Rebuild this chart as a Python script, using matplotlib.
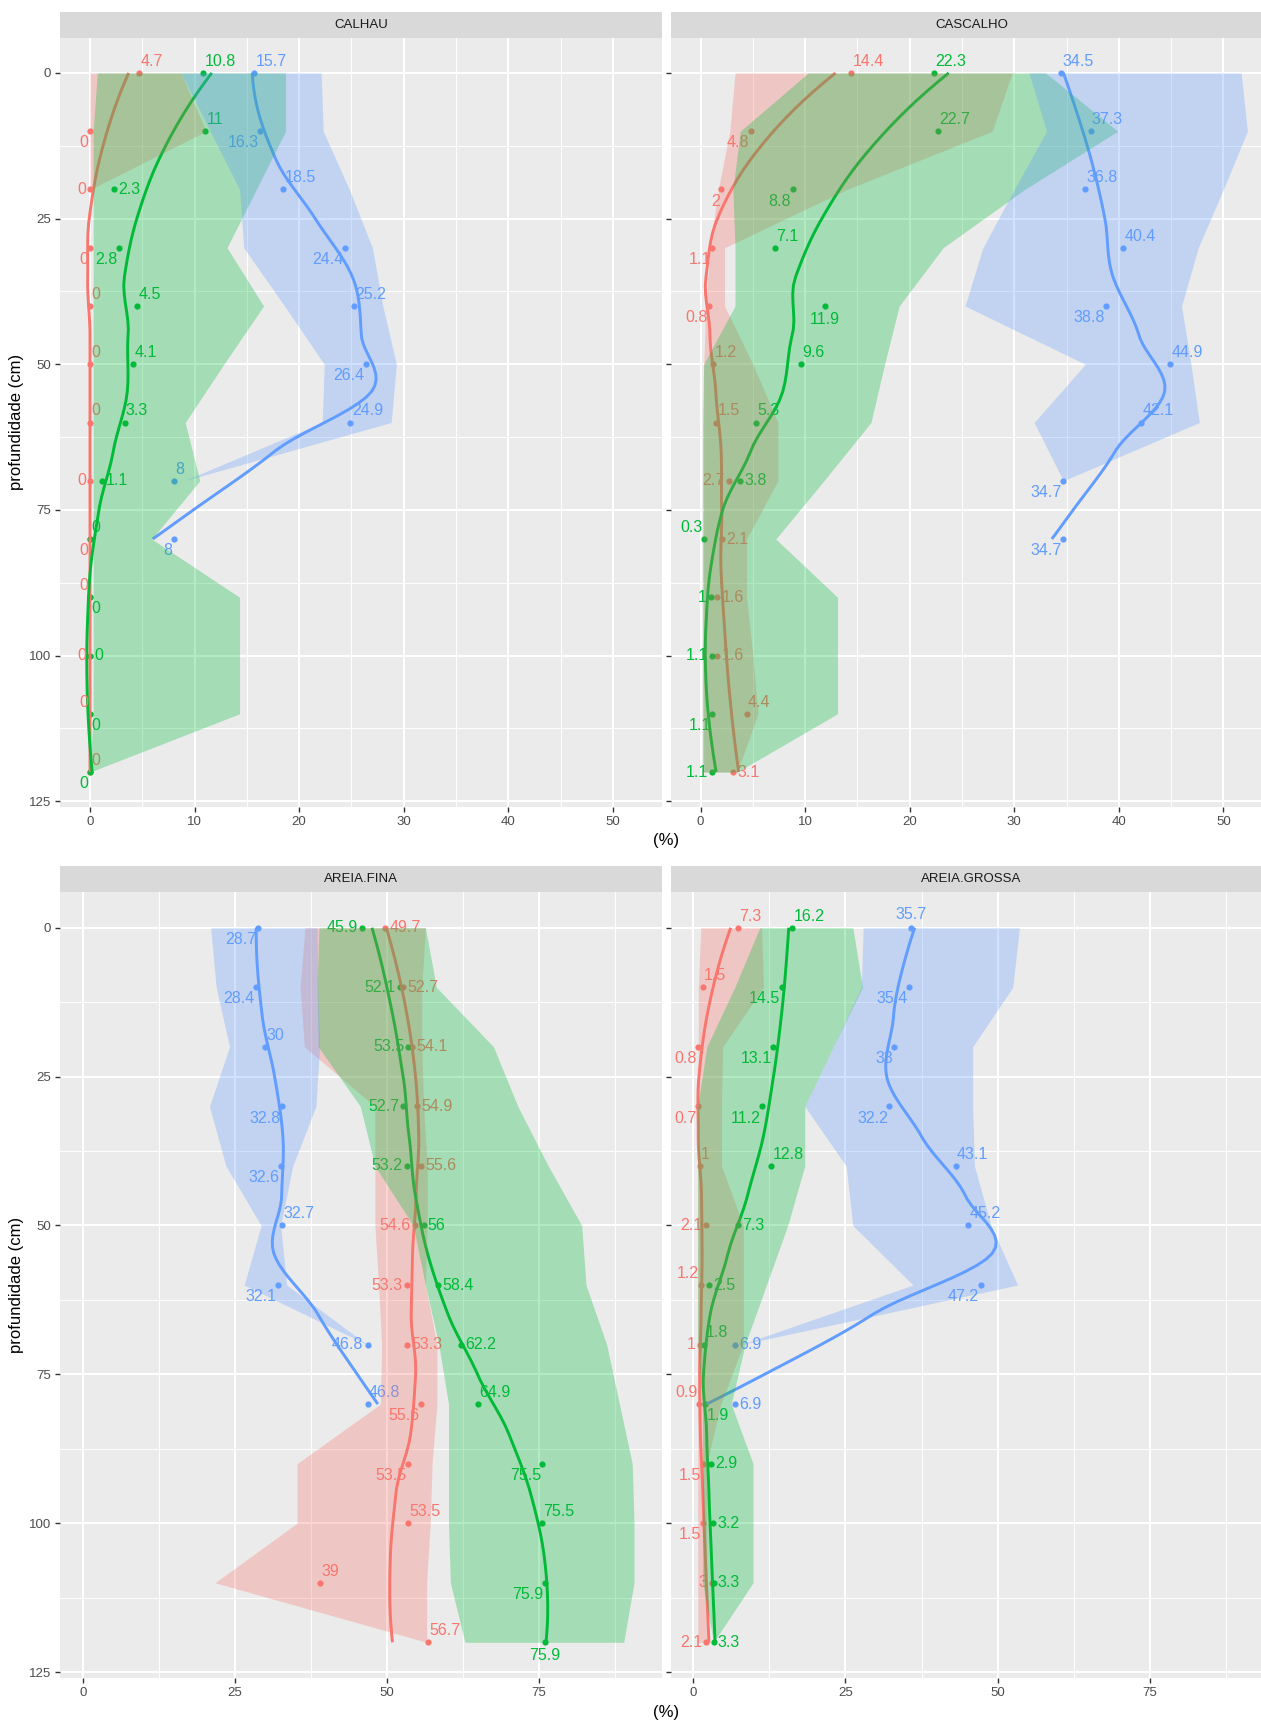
import numpy as np
import matplotlib
matplotlib.use("Agg")
import matplotlib.pyplot as plt

plt.rcParams['font.family'] = ['Liberation Sans', 'DejaVu Sans']

nan = np.nan
profundidade = np.arange(0, 130, 10)

# CALHAU
calhau_r = [4.7, 0, 0, 0, 0, 0, 0, 0, 0, 0, 0, 0, 0]
calhau_g = [10.8, 11, 2.3, 2.8, 4.5, 4.1, 3.3, 1.1, 0, 0, 0, 0, 0]
calhau_b = [15.7, 16.3, 18.5, 24.4, 25.2, 26.4, 24.9, 8, 8]
calhau_r_min = [0, 0, 0, 0, 0, 0, 0, 0, 0, 0, 0, 0, 0]
calhau_r_max = [8.7, 11.1, 0, 0, 0, 0, 0, 0, 0, 0, 0, 0, 0]
calhau_g_min = [0.7, 0.3, 0.3, 0.3, 0.3, 0.3, 0.3, 0.3, 0.3, 0.3, 0.3, 0.3, 0]
calhau_g_max = [18.7, 18.7, 15.9, 13.1, 16.6, 12.8, 9.1, 10.5, 5.9, 14.3, 14.3, 14.3, 0]
calhau_b_min = [8.7, 11.5, 14.3, 14.7, 18.6, 22.4, 22.2, 9.0, nan]
calhau_b_max = [22.1, 22.3, 24.8, 27.0, 28.0, 29.3, 28.8, 9.0, nan]

# CASCALHO
cascalho_r = [14.4, 4.8, 2, 1.1, 0.8, 1.2, 1.5, 2.7, 2.1, 1.6, 1.6, 4.4, 3.1]
cascalho_g = [22.3, 22.7, 8.8, 7.1, 11.9, 9.6, 5.3, 3.8, 0.3, 1, 1.1, 1.1, 1.1]
cascalho_b = [34.5, 37.3, 36.8, 40.4, 38.8, 44.9, 42.1, 34.7, 34.7]
cascalho_r_min = [3.3, 2.8, 1.7, 0.9, 0.5, 0.3, 0.3, 0.3, 0.3, 0.3, 0.3, 0.3, 0.3]
cascalho_r_max = [29.8, 27.9, 14.0, 2.3, 2.3, 5.0, 7.4, 7.4, 4.4, 4.4, 5.0, 5.5, 3.5]
cascalho_g_min = [10.3, 3.8, 3.1, 3.3, 3.3, 0.3, 0.2, 0.2, 0.2, 0.2, 0.2, 0.2, 0.2]
cascalho_g_max = [33.0, 39.9, 31.0, 23.2, 19.0, 17.6, 16.3, 11.8, 7.2, 13.1, 13.1, 13.1, 3.5]
cascalho_b_min = [31.4, 33.1, 30.0, 27.0, 25.3, 36.8, 31.9, 34.7, nan]
cascalho_b_max = [51.7, 52.3, 50.0, 47.6, 46.0, 46.9, 47.7, 34.7, nan]

# AREIA.FINA
fina_r = [49.7, 52.7, 54.1, 54.9, 55.6, 54.6, 53.3, 53.3, 55.6, 53.5, 53.5, 39, 56.7]
fina_g = [45.9, 52.1, 53.5, 52.7, 53.2, 56, 58.4, 62.2, 64.9, 75.5, 75.5, 75.9, 75.9]
fina_b = [28.7, 28.4, 30, 32.8, 32.6, 32.7, 32.1, 46.8, 46.8]
fina_r_min = [36.5, 35.7, 36.4, 48.0, 48.0, 48.0, 48.6, 49.1, 48.9, 35.2, 35.2, 21.7, 56.5]
fina_r_max = [56.3, 55.7, 55.7, 56.0, 56.6, 56.6, 56.3, 58.2, 58.2, 57.4, 57.1, 56.5, 56.5]
fina_g_min = [38.8, 38.5, 38.7, 45.6, 48.0, 54.3, 56.3, 58.5, 60.1, 60.1, 60.1, 60.4, 62.8]
fina_g_max = [56.3, 58.1, 67.5, 71.5, 76.5, 82.0, 82.7, 86.1, 88.2, 90.3, 90.6, 90.6, 88.9]
fina_b_min = [21.0, 21.9, 24.1, 20.8, 23.5, 29.3, 26.5, 46.7, nan]
fina_b_max = [38.5, 38.6, 38.9, 38.3, 34.5, 32.5, 33.5, 46.7, nan]

# AREIA.GROSSA
grossa_r = [7.3, 1.5, 0.8, 0.7, 1, 2.1, 1.2, 1, 0.9, 1.5, 1.5, 3, 2.1]
grossa_g = [16.2, 14.5, 13.1, 11.2, 12.8, 7.3, 2.5, 1.8, 1.9, 2.9, 3.2, 3.3, 3.3]
grossa_b = [35.7, 35.4, 33, 32.2, 43.1, 45.2, 47.2, 6.9, 6.9]
grossa_r_min = [1.2, 0.8, 0.8, 0.7, 0.7, 0.7, 0.7, 0.7, 0.7, 0.7, 0.7, 0.7, 0.7]
grossa_r_max = [11.2, 11.5, 4.8, 4.6, 4.6, 8.2, 8.2, 8.2, 4.5, 2.2, 2.2, 2.2, 2.3]
grossa_g_min = [10.9, 6.8, 2.2, 0.7, 0.7, 0.7, 0.7, 0.7, 1.5, 1.5, 1.5, 1.5, 3.3]
grossa_g_max = [26.2, 27.8, 23.0, 18.3, 18.3, 15.5, 12.0, 8.5, 6.2, 9.8, 9.8, 9.8, 3.3]
grossa_b_min = [27.9, 27.6, 23.0, 18.3, 25.1, 26.2, 36.1, 7.8, nan]
grossa_b_max = [53.6, 52.5, 45.9, 45.9, 46.2, 48.9, 53.3, 7.8, nan]

# lado de cada rotulo em relacao ao ponto
calhau_r_pos = ['NE', 'SW', 'W', 'SW', 'NE', 'NE', 'NE', 'W', 'SW', 'NW', 'W', 'NW', 'NE']
calhau_g_pos = ['NE', 'NE', 'E', 'SW', 'NE', 'NE', 'NE', 'E', 'NE', 'SE', 'E', 'SE', 'SW']
calhau_b_pos = ['NE', 'SW', 'NE', 'SW', 'NE', 'SW', 'NE', 'NE', 'SW']
cascalho_r_pos = ['NE', 'SW', 'SW', 'SW', 'SW', 'NE', 'NE', 'W', 'E', 'E', 'E', 'NE', 'E']
cascalho_g_pos = ['NE', 'NE', 'SW', 'NE', 'S', 'NE', 'NE', 'E', 'NW', 'W', 'W', 'SW', 'W']
cascalho_b_pos = ['NE', 'NE', 'NE', 'NE', 'SW', 'NE', 'NE', 'SW', 'SW']
fina_r_pos = ['E', 'E', 'E', 'E', 'E', 'W', 'W', 'E', 'SW', 'SW', 'NE', 'NE', 'NE']
fina_g_pos = ['W', 'W', 'W', 'W', 'W', 'E', 'E', 'E', 'NE', 'SW', 'NE', 'SW', 'S']
fina_b_pos = ['SW', 'SW', 'NE', 'SW', 'SW', 'NE', 'SW', 'W', 'NE']
grossa_r_pos = ['NE', 'NE', 'SW', 'SW', 'NE', 'W', 'NW', 'W', 'NW', 'SW', 'SW', 'W', 'W']
grossa_g_pos = ['NE', 'SW', 'SW', 'SW', 'NE', 'E', 'E', 'NE', 'SE', 'E', 'E', 'E', 'E']
grossa_b_pos = ['N', 'SW', 'SW', 'SW', 'NE', 'NE', 'SW', 'E', 'E']

VERMELHO = '#F8766D'
VERDE = '#00BA38'
AZUL = '#619CFF'

LADO = {
    'NE': ((1, 3), 'left', 'bottom'),
    'NW': ((-1, 3), 'right', 'bottom'),
    'SE': ((1, -3), 'left', 'top'),
    'SW': ((-1, -3), 'right', 'top'),
    'E': ((3, 0), 'left', 'center'),
    'W': ((-3, 0), 'right', 'center'),
    'N': ((0, 4), 'center', 'bottom'),
    'S': ((0, -4), 'center', 'top'),
}


def ajuste_local(x, y, x0, q):
    # ajuste quadratico ponderado (tricubico) em torno de x0: valor e inclinacao
    d = np.abs(x - x0)
    h = np.sort(d)[q - 1] * 1.0001
    w = np.clip(1 - (d / h) ** 3, 0, None) ** 3
    X = np.column_stack([np.ones(len(x)), x - x0, (x - x0) ** 2])
    A = X.T @ (w[:, None] * X)
    b = X.T @ (w * y)
    beta = np.linalg.lstsq(A, b, rcond=None)[0]
    return beta[0], beta[1]


def loess(x, y, xs, span=0.75):
    # loess do R: ajuste nos vertices e interpolacao cubica de Hermite
    x = np.asarray(x, float)
    y = np.asarray(y, float)
    q = int(np.floor(len(x) * span))
    mu = 0.005 * (x.max() - x.min())
    vert = np.concatenate([[x.min() - mu], (x[:-1] + x[1:]) / 2, [x.max() + mu]])
    fv = np.array([ajuste_local(x, y, v, q) for v in vert])
    saida = []
    for x0 in xs:
        i = min(np.searchsorted(vert, x0, side='right') - 1, len(vert) - 2)
        i = max(i, 0)
        h = vert[i + 1] - vert[i]
        t = (x0 - vert[i]) / h
        h00 = 2 * t ** 3 - 3 * t ** 2 + 1
        h10 = t ** 3 - 2 * t ** 2 + t
        h01 = -2 * t ** 3 + 3 * t ** 2
        h11 = t ** 3 - t ** 2
        saida.append(h00 * fv[i, 0] + h10 * h * fv[i, 1] +
                     h01 * fv[i + 1, 0] + h11 * h * fv[i + 1, 1])
    return np.array(saida)


def fmt(v):
    return ('%g' % v)


W, H = 1261, 1722
fig = plt.figure(figsize=(W / 100, H / 100), dpi=100)
fig.patch.set_facecolor('white')


def caixa(x0, x1, ytop, ybot):
    return [x0 / W, 1 - ybot / H, (x1 - x0) / W, (ybot - ytop) / H]


def painel(x0, x1, ytop, ybot, titulo, series, xlim, xticks, xminor, rotulos_y):
    ax = fig.add_axes(caixa(x0, x1, ytop, ybot))
    ax.set_facecolor('#EBEBEB')
    for s in ax.spines.values():
        s.set_visible(False)
    ax.set_xlim(*xlim)
    ax.set_ylim(126, -6)
    ax.set_xticks(xticks)
    ax.set_xticks(xminor, minor=True)
    ax.set_yticks([0, 25, 50, 75, 100, 125])
    ax.set_yticks([12.5, 37.5, 62.5, 87.5, 112.5], minor=True)
    ax.grid(True, which='major', color='white', lw=1.5, zorder=0)
    ax.grid(True, which='minor', color='white', lw=0.7, zorder=0)
    ax.set_axisbelow(True)
    ax.tick_params(which='major', length=3.5, width=1.0, color='#333333',
                   labelsize=9.5, labelcolor='#4D4D4D', pad=3)
    ax.tick_params(which='minor', length=0)
    if not rotulos_y:
        ax.tick_params(axis='y', labelleft=False)

    for vals, vmin, vmax, lados, cor in series:
        vals = np.asarray(vals, float)
        d = profundidade[:len(vals)]
        ax.scatter(vals, d, s=20, color=cor, lw=0, zorder=2)
        ds = np.linspace(d[0], d[-1], 80)
        ax.plot(loess(d, vals, ds), ds, color=cor, lw=2.1, zorder=2.5,
                solid_capstyle='butt')
        for v, p, lado in zip(vals, d, lados):
            off, ha, va = LADO[lado]
            ax.annotate(fmt(v), (v, p), xytext=off, textcoords='offset points',
                        ha=ha, va=va, fontsize=11.5, color=cor, zorder=3)

    for vals, vmin, vmax, lados, cor in series:
        lo = np.asarray(vmin, float)
        hi = np.asarray(vmax, float)
        ok = ~np.isnan(lo)
        d = profundidade[:len(lo)][ok]
        ax.fill_betweenx(d, lo[ok], hi[ok], color=cor, alpha=0.3, lw=0, zorder=4)

    fa = fig.add_axes(caixa(x0, x1, ytop - 26, ytop))
    fa.set_facecolor('#D9D9D9')
    fa.set_xticks([])
    fa.set_yticks([])
    for s in fa.spines.values():
        s.set_visible(False)
    fa.text(0.5, 0.5, titulo, ha='center', va='center', fontsize=9.5,
            color='#1A1A1A', transform=fa.transAxes)
    return ax


x_sup = (-2.87, 54.7)
x_inf = (-3.77, 95.2)
t_sup = [0, 10, 20, 30, 40, 50]
m_sup = [5, 15, 25, 35, 45]
t_inf = [0, 25, 50, 75]
m_inf = [12.5, 37.5, 62.5, 87.5]

painel(60, 662, 38, 807, 'CALHAU',
       [(calhau_r, calhau_r_min, calhau_r_max, calhau_r_pos, VERMELHO),
        (calhau_g, calhau_g_min, calhau_g_max, calhau_g_pos, VERDE),
        (calhau_b, calhau_b_min, calhau_b_max, calhau_b_pos, AZUL)],
       x_sup, t_sup, m_sup, True)
painel(670.5, 1272.5, 38, 807, 'CASCALHO',
       [(cascalho_r, cascalho_r_min, cascalho_r_max, cascalho_r_pos, VERMELHO),
        (cascalho_g, cascalho_g_min, cascalho_g_max, cascalho_g_pos, VERDE),
        (cascalho_b, cascalho_b_min, cascalho_b_max, cascalho_b_pos, AZUL)],
       x_sup, t_sup, m_sup, False)
painel(60, 662, 892, 1678, 'AREIA.FINA',
       [(fina_r, fina_r_min, fina_r_max, fina_r_pos, VERMELHO),
        (fina_g, fina_g_min, fina_g_max, fina_g_pos, VERDE),
        (fina_b, fina_b_min, fina_b_max, fina_b_pos, AZUL)],
       x_inf, t_inf, m_inf, True)
painel(670.5, 1272.5, 892, 1678, 'AREIA.GROSSA',
       [(grossa_r, grossa_r_min, grossa_r_max, grossa_r_pos, VERMELHO),
        (grossa_g, grossa_g_min, grossa_g_max, grossa_g_pos, VERDE),
        (grossa_b, grossa_b_min, grossa_b_max, grossa_b_pos, AZUL)],
       x_inf, t_inf, m_inf, False)

# titulos dos eixos
for yc in (422, 1285):
    fig.text(17 / W, 1 - yc / H, 'profundidade (cm)', rotation=90,
             ha='center', va='center', fontsize=12, color='black')
for yc in (840, 1712):
    fig.text(666 / W, 1 - yc / H, '(%)', ha='center', va='center',
             fontsize=12, color='black')

fig.savefig('out.png', dpi=100)
